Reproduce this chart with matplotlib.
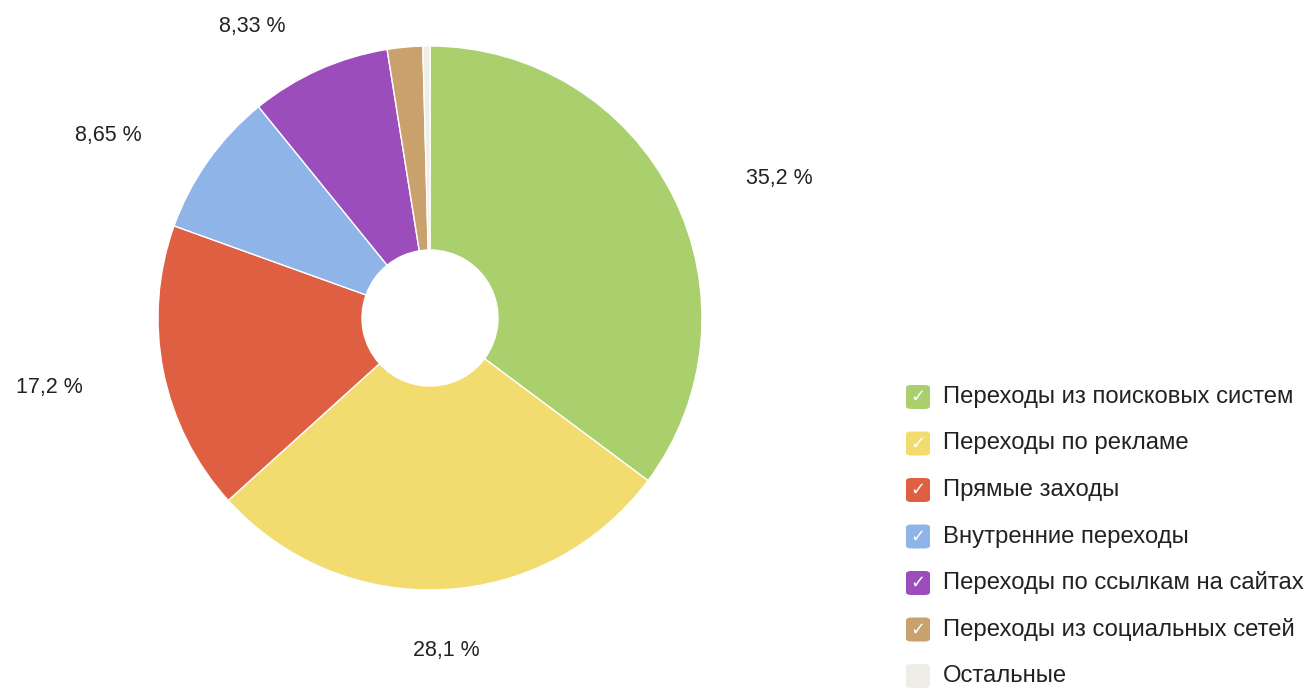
import numpy as np
import matplotlib
matplotlib.use("Agg")
import matplotlib.pyplot as plt
from matplotlib.patches import FancyBboxPatch

plt.rcParams['font.family'] = ['Liberation Sans', 'DejaVu Sans']

categories = ["Переходы из поисковых систем", "Переходы по рекламе", "Прямые заходы",
              "Внутренние переходы", "Переходы по ссылкам на сайтах",
              "Переходы из социальных сетей", "Остальные"]
values = [35.2, 28.1, 17.2, 8.65, 8.33, 2.1, 0.42]
labels = ["35,2 %", "28,1 %", "17,2 %", "8,65 %", "8,33 %", "", ""]
colors = ["#a9d06d", "#f2dc6f", "#df5f42", "#8fb4e7", "#9a4dbb", "#c9a16d", "#eeeee6"]

W, H = 1314, 689
fig = plt.figure(figsize=(W / 100, H / 100), dpi=100)
fig.patch.set_facecolor("white")

cx, cy, R = 430, 318, 272
half = 300
ax = fig.add_axes([(cx - half) / W, (H - cy - half) / H, 2 * half / W, 2 * half / H])

wedges, _ = ax.pie(values, colors=colors, startangle=90, counterclock=False, radius=1.0,
                   wedgeprops=dict(width=0.75, edgecolor="white", linewidth=1.0))
lim = half / R
ax.set_xlim(-lim, lim)
ax.set_ylim(-lim, lim)
ax.set_aspect("auto")
ax.axis("off")

total = sum(values)
cum = 0
for v, lab in zip(values, labels):
    mid = (cum + v / 2) / total * 2 * np.pi
    cum += v
    if not lab:
        continue
    x = 1.3 * np.sin(mid)
    y = 1.2 * np.cos(mid) - 0.025
    ha = "left" if x > 0.3 else ("right" if x < -0.3 else "center")
    ax.text(x, y, lab, ha=ha, va="center", fontsize=15.5, color="#222222")

# legend
x_box = 906
y0 = 397
dy = 46.5
box = 24
for i, (cat, col) in enumerate(zip(categories, colors)):
    yc = y0 + i * dy
    p = FancyBboxPatch((x_box / W, (H - yc - box / 2) / H), box / W, box / H,
                       boxstyle="round,pad=0,rounding_size=0.004", transform=fig.transFigure,
                       facecolor=col, edgecolor="none")
    fig.patches.append(p)
    if i < len(categories) - 1:
        fig.text((x_box + box / 2) / W, (H - yc) / H, "✓", ha="center", va="center",
                 fontsize=13, color="white", family="DejaVu Sans")
    fig.text(943 / W, (H - yc) / H, cat, ha="left", va="center", fontsize=17.2, color="#222222")

fig.savefig("out.png", dpi=100)
